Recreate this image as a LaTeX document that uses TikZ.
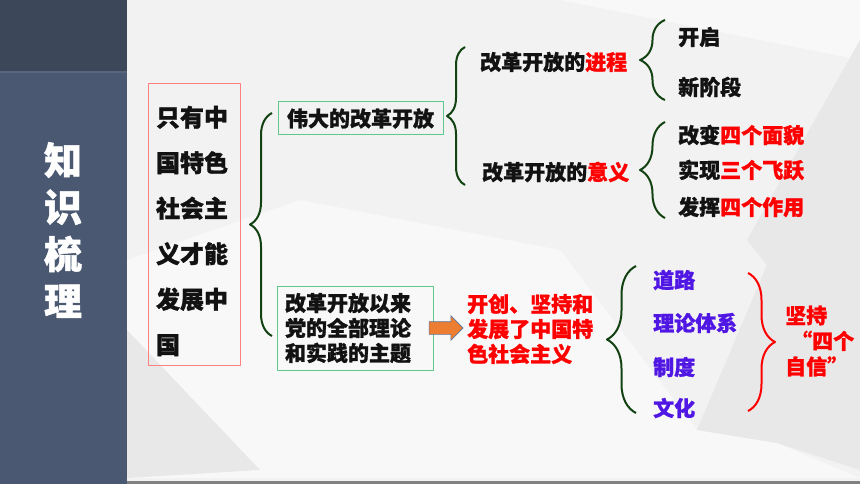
\documentclass[tikz,border=0pt]{standalone}
\usepackage{fontspec}
\setmainfont{Noto Sans CJK SC}[BoldFeatures={FakeBold=1.2}]
\usetikzlibrary{decorations.pathreplacing,shapes.arrows}

\definecolor{panelTop}{RGB}{60,71,89}
\definecolor{panelBot}{RGB}{74,89,113}
\definecolor{panelLine}{RGB}{88,101,124}
\definecolor{bgBase}{RGB}{242,242,242}
\definecolor{bgLight}{RGB}{248,248,248}
\definecolor{bgDark}{RGB}{232,232,232}
\definecolor{braceGreen}{RGB}{18,66,18}
\definecolor{boxRed}{RGB}{255,128,128}
\definecolor{boxGreen}{RGB}{96,200,140}
\definecolor{keyRed}{RGB}{255,0,0}
\definecolor{keyBlue}{RGB}{80,22,228}
\definecolor{arrowOrange}{RGB}{237,125,49}
\definecolor{arrowEdge}{RGB}{90,120,160}

\tikzset{
	txt/.style={font=\bfseries\fontsize{21}{25}\selectfont, inner sep=0pt, anchor=west, text=black!93},
	greenbox/.style={draw=boxGreen, line width=1pt, font=\bfseries\fontsize{21}{25}\selectfont, text=black!93},
	bracegreen/.style={decorate, decoration={brace, amplitude=#1}, draw=braceGreen, line width=2pt},
	bracered/.style={decorate, decoration={brace, amplitude=#1}, draw=keyRed, line width=2pt}
}

\begin{document}
\begin{tikzpicture}[
				x=1pt,
				y=-1pt,
				line join=round
			]
			\useasboundingbox (0,0) rectangle (860,484);

			% Background
			\fill[bgBase] (0,0) rectangle (860,484);
			\fill[bgLight] (127,0) -- (560,0) -- (860,60) -- (860,0) -- cycle;
			\fill[bgLight] (127,260) -- (300,200) -- (560,250) -- (697,430) -- (777,443) -- (860,478) -- (127,478) -- cycle;
			\fill[bgDark] (127,330) -- (260,470) -- (127,478) -- cycle;
			\fill[bgDark] (747,240) -- (860,40) -- (860,470) -- (777,443) -- (697,430) -- (767,265) -- cycle;
			\fill[black!50] (127,481) rectangle (860,484);

			% Side panel
			\fill[panelBot] (0,72) rectangle (127,484);
			\fill[panelTop] (0,0) rectangle (127,72);
			\draw[panelLine, line width=1.5pt] (0,72) -- (127,72);
			\node[font=\bfseries\fontsize{38}{47}\selectfont, text=white, align=center] (title) at (63,230) {知\\识\\梳\\理};

			% Main topic
			\node[draw=boxRed, line width=1pt, minimum width=92, minimum height=281] (goalbox) at (194,224.5) {};
			\node[text width=76pt, inner sep=0pt, align=left,
				font=\bfseries\fontsize{24}{45.5}\selectfont, text=black!93] (goal) at (194,231)
				{只有中\\国特色\\社会主\\义才能\\发展中\\国};
			\coordinate (b1top) at (272,113);
			\coordinate (b1bot) at (272,336);
			\draw[bracegreen=22pt] (b1bot) -- (b1top);

			% First branch
			\node[greenbox, minimum width=165, minimum height=33, inner sep=0pt] (great) at (360.5,118.5) {伟大的改革开放};
			\coordinate (b2top) at (465,47);
			\coordinate (b2bot) at (465,185);
			\draw[bracegreen=18pt] (b2bot) -- (b2top);
			\node[txt] (course) at (480,62) {改革开放的\textcolor{keyRed}{进程}};
			\node[txt] (meaning) at (482,172) {改革开放的\textcolor{keyRed}{意义}};

			\coordinate (b3top) at (665,20);
			\coordinate (b3bot) at (665,100);
			\draw[bracegreen=25pt] (b3bot) -- (b3top);
			\node[txt] (open) at (678,37) {开启};
			\node[txt] (stage) at (678,87) {新阶段};

			\coordinate (b4top) at (665,122);
			\coordinate (b4bot) at (665,218);
			\draw[bracegreen=25pt] (b4bot) -- (b4top);
			\node[txt] (face) at (678,135) {改变\textcolor{keyRed}{四个面貌}};
			\node[txt] (leap) at (678,170) {实现\textcolor{keyRed}{三个飞跃}};
			\node[txt] (role) at (678,207) {发挥\textcolor{keyRed}{四个作用}};

			% Second branch
			\node[greenbox, minimum width=156, minimum height=84, text width=140pt, inner xsep=8pt, align=left] (theme) at (355,328)
				{改革开放以来\\党的全部理论\\和实践的主题};
			\node[single arrow, draw=arrowEdge, fill=arrowOrange, line width=0.6pt, minimum height=34,
				single arrow head extend=6, inner xsep=0pt, inner ysep=6pt] (arr) at (443,328) {};
			\node[txt, text=keyRed, align=left] (socialism) at (467,329) {开创、坚持和\\发展了中国特\\色社会主义};

			\coordinate (b5top) at (636,266);
			\coordinate (b5bot) at (636,413);
			\draw[bracegreen=29pt] (b5bot) -- (b5top);
			\node[txt, text=keyBlue] (road) at (653,280) {道路};
			\node[txt, text=keyBlue] (theory) at (653,323) {理论体系};
			\node[txt, text=keyBlue] (system) at (653,367) {制度};
			\node[txt, text=keyBlue] (culture) at (653,408) {文化};

			\coordinate (b6top) at (748,273);
			\coordinate (b6bot) at (748,411);
			\draw[bracered=27pt] (b6top) -- (b6bot);
			\node[txt, text=keyRed, align=left, font=\bfseries\fontsize{21}{25.5}\selectfont] (trust) at (785,341)
				{坚持\\\hspace*{6pt}“四个\\自信”};

		\end{tikzpicture}
\end{document}
